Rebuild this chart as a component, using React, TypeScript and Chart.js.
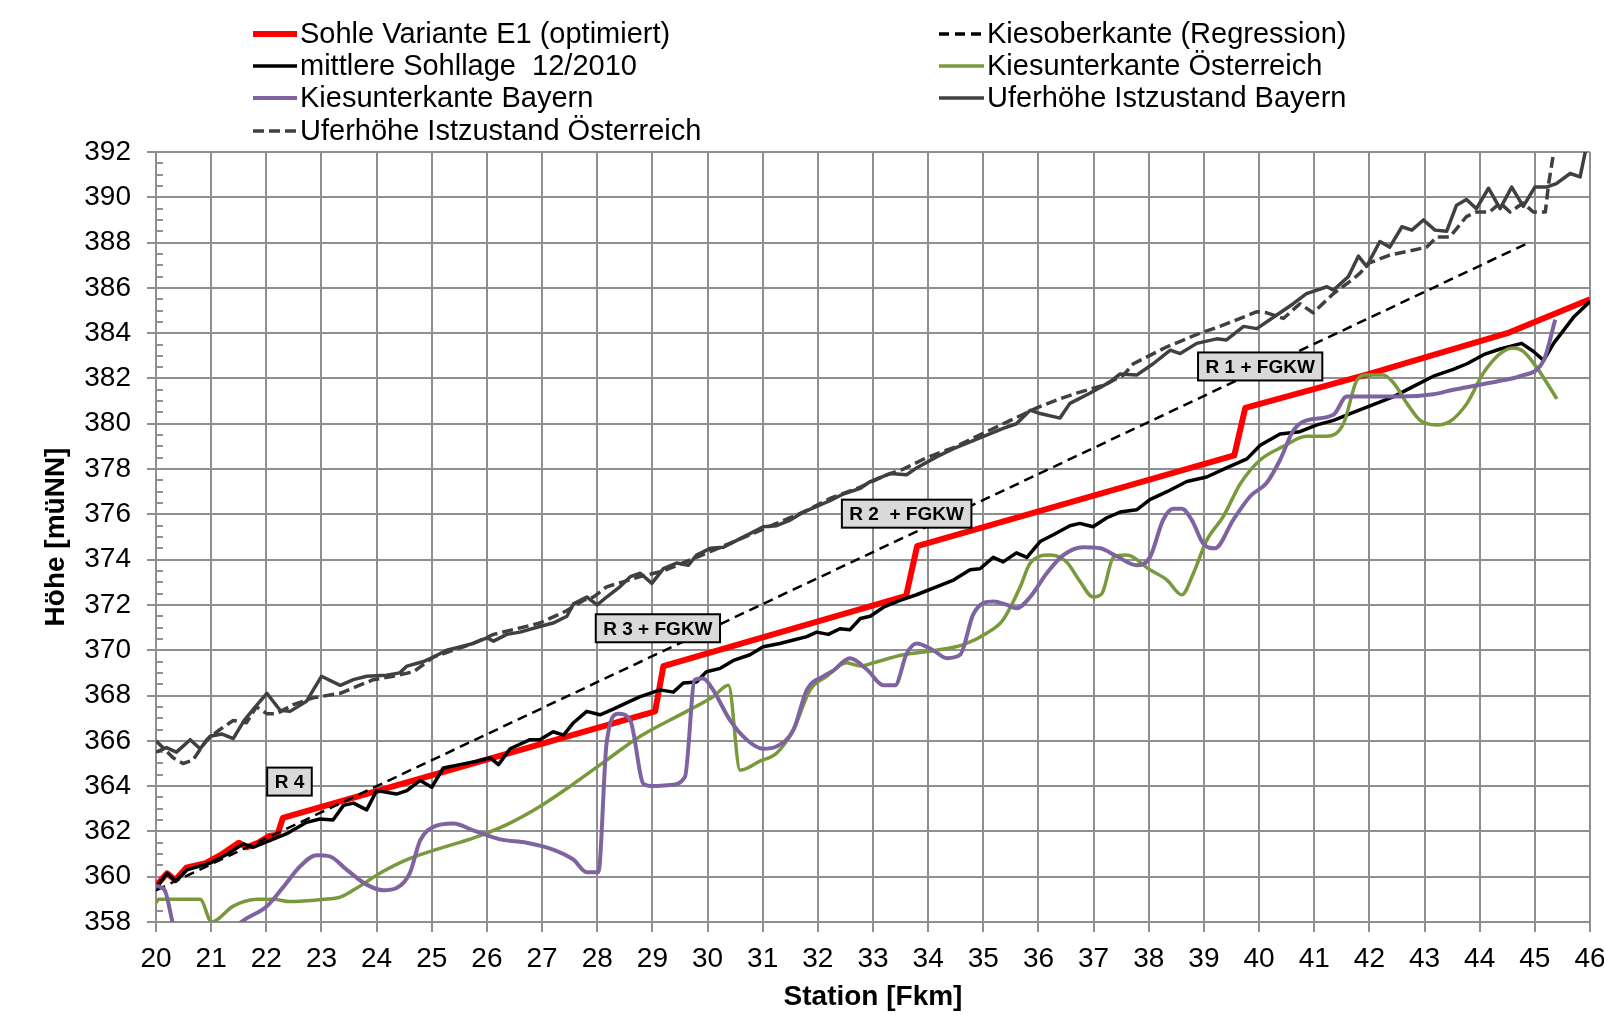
import React, { useEffect, useRef } from 'react';
import { Chart, registerables } from 'chart.js';

Chart.register(...registerables);

type P = [number, number];

// Axis ranges (Station in Fkm, Höhe in müNN)
const xRange: P = [20, 46];
const yRange: P = [358, 392];
const xStep = 1;
const yStep = 2;
const yMinorStep = 0.5;

const sohleE1: P[] = [
  [20.0, 359.6], [20.2, 360.15], [20.35, 359.85], [20.55, 360.4], [20.9, 360.6], [21.2, 361.0],
  [21.5, 361.5], [21.65, 361.3], [21.85, 361.5], [22.05, 361.8], [22.2, 361.85], [22.3, 362.6],
  [29.05, 367.3], [29.2, 369.3], [33.6, 372.4], [33.8, 374.6], [39.55, 378.6], [39.75, 380.7],
  [42.0, 382.2], [44.5, 384.0], [46.0, 385.5],
];

const kiesoberkante: P[] = [[20.0, 359.4], [44.85, 387.95]];

const mittlereSohle: P[] = [
  [20.0, 359.5], [20.2, 360.15], [20.36, 359.8], [20.56, 360.3], [20.98, 360.6], [21.3, 361.0],
  [21.58, 361.45], [21.76, 361.3], [22.07, 361.6], [22.37, 361.9], [22.73, 362.4], [22.97, 362.55],
  [23.21, 362.5], [23.4, 363.15], [23.58, 363.25], [23.82, 362.95], [24.0, 363.8], [24.36, 363.65],
  [24.55, 363.8], [24.79, 364.25], [25.0, 363.95], [25.21, 364.8], [25.51, 364.95], [25.82, 365.1],
  [26.06, 365.25], [26.21, 364.95], [26.42, 365.65], [26.78, 366.05], [26.96, 366.05], [27.2, 366.4],
  [27.39, 366.25], [27.57, 366.8], [27.81, 367.3], [28.05, 367.15], [28.29, 367.4], [28.55, 367.7],
  [28.78, 367.95], [29.14, 368.25], [29.38, 368.15], [29.56, 368.55], [29.8, 368.6], [29.98, 369.05],
  [30.23, 369.2], [30.47, 369.55], [30.77, 369.8], [31.01, 370.15], [31.31, 370.3], [31.56, 370.45],
  [31.8, 370.6], [31.98, 370.8], [32.19, 370.7], [32.4, 370.95], [32.58, 370.9], [32.77, 371.4],
  [32.95, 371.5], [33.19, 371.9], [33.49, 372.2], [33.79, 372.45], [34.15, 372.8], [34.46, 373.1],
  [34.76, 373.55], [34.94, 373.6], [35.18, 374.1], [35.36, 373.9], [35.6, 374.3], [35.79, 374.1],
  [36.03, 374.8], [36.27, 375.1], [36.57, 375.5], [36.75, 375.6], [36.99, 375.45], [37.24, 375.85],
  [37.48, 376.1], [37.78, 376.2], [38.02, 376.65], [38.33, 377.0], [38.69, 377.45], [39.05, 377.65],
  [39.41, 378.05], [39.78, 378.45], [40.02, 379.05], [40.38, 379.55], [40.74, 379.65], [41.05, 379.95],
  [41.35, 380.15], [41.71, 380.5], [42.07, 380.85], [42.44, 381.2], [42.8, 381.65], [43.16, 382.1],
  [43.52, 382.4], [43.77, 382.65], [44.07, 383.05], [44.37, 383.3], [44.76, 383.55], [44.97, 383.2],
  [45.16, 382.8], [45.34, 383.55], [45.7, 384.7], [46.0, 385.4],
];

const kiesunterkanteOesterreich: P[] = [
  [20.0, 358.85], [20.05, 359.0], [20.8, 359.0], [21.01, 358.0], [21.4, 358.7], [21.83, 359.0],
  [22.13, 359.0], [22.43, 358.9], [23.03, 359.0], [23.34, 359.1], [23.64, 359.5], [24.06, 360.15],
  [24.55, 360.75], [25.15, 361.25], [25.75, 361.7], [26.36, 362.3], [26.96, 363.1], [27.57, 364.1],
  [28.17, 365.15], [28.78, 366.2], [29.62, 367.3], [30.1, 367.95], [30.38, 368.45], [30.59, 364.7],
  [30.95, 365.1], [31.25, 365.45], [31.56, 366.5], [31.86, 368.25], [32.16, 368.85], [32.52, 369.45],
  [32.77, 369.3], [33.01, 369.45], [33.55, 369.8], [34.15, 370.0], [34.64, 370.25], [35.06, 370.75],
  [35.36, 371.35], [35.67, 372.8], [35.85, 373.85], [36.21, 374.2], [36.51, 373.9], [36.75, 373.05],
  [36.99, 372.35], [37.15, 372.5], [37.36, 374.1], [37.6, 374.2], [38.02, 373.55], [38.33, 373.1],
  [38.6, 372.45], [38.81, 373.4], [39.05, 374.85], [39.35, 375.9], [39.66, 377.35], [40.02, 378.4],
  [40.44, 379.0], [40.86, 379.45], [41.22, 379.45], [41.53, 380.0], [41.77, 381.9], [41.95, 382.15],
  [42.25, 382.15], [42.44, 381.8], [42.68, 380.9], [42.92, 380.15], [43.22, 379.95], [43.46, 380.1],
  [43.77, 380.9], [44.07, 382.25], [44.37, 383.1], [44.61, 383.35], [44.79, 383.2], [45.03, 382.5],
  [45.4, 381.1],
];

const kiesunterkanteBayern: P[] = [
  [20.0, 359.6], [20.16, 359.4], [20.31, 357.9], [20.5, 356.8], [21.0, 356.5], [21.52, 357.95],
  [22.01, 358.7], [22.31, 359.55], [22.61, 360.45], [22.91, 360.95], [23.15, 360.9], [23.46, 360.3],
  [23.82, 359.65], [24.12, 359.4], [24.36, 359.5], [24.6, 360.15], [24.79, 361.6], [25.03, 362.2],
  [25.39, 362.35], [25.75, 362.05], [26.24, 361.65], [26.72, 361.5], [27.2, 361.2], [27.57, 360.75],
  [27.81, 360.2], [28.02, 360.2], [28.17, 365.9], [28.38, 367.2], [28.6, 366.9], [28.84, 364.1],
  [29.02, 364.0], [29.32, 364.05], [29.59, 364.4], [29.77, 368.7], [29.92, 368.75], [30.1, 368.25],
  [30.41, 366.9], [30.71, 366.05], [31.01, 365.65], [31.25, 365.75], [31.56, 366.5], [31.8, 368.25],
  [32.1, 368.85], [32.28, 369.1], [32.58, 369.65], [32.89, 369.15], [33.19, 368.45], [33.4, 368.45],
  [33.61, 369.85], [33.79, 370.3], [34.09, 370.0], [34.34, 369.65], [34.58, 369.8], [34.82, 371.6],
  [35.18, 372.15], [35.43, 372.0], [35.6, 371.85], [35.85, 372.35], [36.15, 373.4], [36.45, 374.2],
  [36.81, 374.55], [37.12, 374.5], [37.42, 374.15], [37.78, 373.75], [38.02, 374.1], [38.26, 375.75],
  [38.44, 376.25], [38.6, 376.25], [38.78, 375.75], [38.99, 374.7], [39.2, 374.5], [39.53, 375.75],
  [39.84, 376.8], [40.14, 377.4], [40.38, 378.4], [40.62, 379.7], [40.86, 380.15], [41.35, 380.4],
  [41.59, 381.2], [42.07, 381.2], [42.56, 381.2], [43.16, 381.3], [43.52, 381.5], [43.95, 381.7],
  [44.37, 381.9], [44.73, 382.1], [45.16, 382.8], [45.37, 384.6],
];

const uferBayern: P[] = [
  [20.0, 365.5], [20.19, 365.7], [20.37, 365.5], [20.62, 366.05], [20.8, 365.65], [20.98, 366.2],
  [21.2, 366.3], [21.4, 366.1], [21.6, 366.9], [21.8, 367.5], [22.01, 368.1], [22.25, 367.35],
  [22.43, 367.3], [22.73, 367.75], [23.0, 368.85], [23.34, 368.45], [23.58, 368.7], [23.82, 368.85],
  [24.18, 368.9], [24.42, 369.0], [24.55, 369.3], [24.85, 369.5], [25.03, 369.7], [25.27, 370.0],
  [25.51, 370.15], [25.75, 370.3], [26.0, 370.55], [26.12, 370.4], [26.36, 370.7], [26.6, 370.8],
  [26.96, 371.05], [27.2, 371.2], [27.45, 371.5], [27.57, 372.05], [27.81, 372.35], [28.0, 372.0],
  [28.17, 372.35], [28.41, 372.8], [28.6, 373.25], [28.78, 373.4], [28.99, 372.95], [29.2, 373.6],
  [29.44, 373.85], [29.65, 373.75], [29.8, 374.2], [30.05, 374.5], [30.29, 374.55], [30.53, 374.85],
  [30.77, 375.15], [31.01, 375.45], [31.25, 375.5], [31.5, 375.75], [31.74, 376.1], [31.98, 376.35],
  [32.22, 376.6], [32.46, 376.9], [32.77, 377.15], [32.95, 377.45], [33.31, 377.8], [33.61, 377.75],
  [33.79, 378.05], [34.16, 378.55], [34.46, 378.9], [34.76, 379.2], [35.06, 379.5], [35.36, 379.8],
  [35.6, 380.0], [35.85, 380.6], [36.03, 380.45], [36.39, 380.25], [36.57, 380.9], [36.93, 381.35],
  [37.3, 381.85], [37.48, 382.2], [37.78, 382.15], [38.08, 382.65], [38.39, 383.25], [38.57, 383.1],
  [38.87, 383.55], [39.23, 383.75], [39.41, 383.7], [39.72, 384.3], [39.96, 384.2], [40.32, 384.8],
  [40.62, 385.3], [40.86, 385.75], [41.23, 386.05], [41.35, 385.9], [41.62, 386.5], [41.8, 387.4],
  [41.95, 386.95], [42.19, 388.05], [42.37, 387.8], [42.59, 388.7], [42.77, 388.55], [42.98, 389.0],
  [43.19, 388.55], [43.4, 388.5], [43.58, 389.65], [43.76, 389.9], [43.94, 389.5], [44.16, 390.4],
  [44.37, 389.5], [44.58, 390.45], [44.79, 389.6], [45.0, 390.45], [45.21, 390.45], [45.39, 390.6],
  [45.64, 391.05], [45.82, 390.9], [45.91, 391.95], [46.0, 393.5],
];

const uferOesterreich: P[] = [
  [20.0, 366.0], [20.31, 365.25], [20.49, 365.0], [20.67, 365.15], [20.92, 366.05], [21.16, 366.5],
  [21.4, 366.9], [21.64, 366.8], [21.82, 367.5], [22.01, 367.2], [22.19, 367.2], [22.49, 367.6],
  [22.85, 367.9], [23.34, 368.1], [23.64, 368.4], [23.94, 368.7], [24.3, 368.85], [24.67, 369.05],
  [25.03, 369.7], [25.75, 370.3], [26.12, 370.7], [26.96, 371.2], [27.45, 371.75], [27.75, 372.2],
  [27.93, 372.35], [28.17, 372.8], [28.78, 373.25], [29.2, 373.5], [29.8, 374.1], [30.29, 374.6],
  [30.77, 375.1], [31.25, 375.6], [31.74, 376.1], [32.22, 376.7], [32.77, 377.2], [33.2, 377.7],
  [33.55, 378.0], [33.97, 378.5], [34.46, 378.95], [34.76, 379.3], [35.36, 380.0], [35.97, 380.7],
  [36.33, 381.05], [36.69, 381.35], [37.18, 381.7], [37.54, 382.15], [37.72, 382.65], [38.33, 383.4],
  [38.93, 384.0], [39.29, 384.3], [39.66, 384.65], [39.96, 384.95], [40.14, 384.9], [40.44, 384.65],
  [40.74, 385.3], [40.98, 384.9], [41.35, 385.75], [41.71, 386.4], [41.83, 386.65], [42.0, 387.1],
  [42.37, 387.45], [42.67, 387.6], [43.04, 387.8], [43.22, 388.25], [43.46, 388.25], [43.76, 389.15],
  [43.94, 389.35], [44.18, 389.35], [44.37, 389.75], [44.55, 389.35], [44.79, 389.75], [44.97, 389.35],
  [45.19, 389.35], [45.25, 390.6], [45.34, 391.95], [45.4, 393.0],
];

const seriesLabels = [
  'Sohle Variante E1 (optimiert)',
  'Kiesoberkante (Regression)',
  'mittlere Sohllage  12/2010',
  'Kiesunterkante Österreich',
  'Kiesunterkante Bayern',
  'Uferhöhe Istzustand Bayern',
  'Uferhöhe Istzustand Österreich',
];

const annotationTexts = ['R 4', 'R 3 + FGKW', 'R 2  + FGKW', 'R 1 + FGKW'];
const annotationX = [22.42, 29.1, 33.61, 40.02];
const annotationY = [364.2, 370.97, 376.03, 382.53];

const FONT = '"Liberation Sans", Arial, "Noto Sans", sans-serif';
const GRID = '#8f8f8f';

const toXY = (arr: P[]) => arr.map(([x, y]) => ({ x, y }));

const minorTicksPlugin = {
  id: 'minorTicks',
  beforeDatasetsDraw(chart: any) {
    const { ctx, scales } = chart;
    const y = scales.y;
    const left = chart.chartArea.left;
    ctx.save();
    ctx.strokeStyle = GRID;
    ctx.lineWidth = 2;
    for (let v = yRange[0]; v <= yRange[1] + 1e-9; v += yMinorStep) {
      if (Math.abs(v / yStep - Math.round(v / yStep)) < 1e-6) continue;
      const py = Math.round(y.getPixelForValue(v));
      ctx.beginPath();
      ctx.moveTo(left, py);
      ctx.lineTo(left + 7, py);
      ctx.stroke();
    }
    ctx.restore();
  },
};

const annotationPlugin = {
  id: 'boxLabels',
  afterDatasetsDraw(chart: any) {
    const { ctx, scales } = chart;
    ctx.save();
    ctx.font = `bold 19px ${FONT}`;
    ctx.textBaseline = 'middle';
    ctx.textAlign = 'center';
    annotationTexts.forEach((t, i) => {
      const cx = scales.x.getPixelForValue(annotationX[i]);
      const cy = scales.y.getPixelForValue(annotationY[i]);
      const w = ctx.measureText(t).width + 15;
      const h = 28;
      ctx.fillStyle = '#d9d9d9';
      ctx.fillRect(cx - w / 2, cy - h / 2, w, h);
      ctx.strokeStyle = '#000';
      ctx.lineWidth = 2;
      ctx.strokeRect(cx - w / 2, cy - h / 2, w, h);
      ctx.fillStyle = '#000';
      ctx.fillText(t, cx, cy + 1);
    });
    ctx.restore();
  },
};

const legendPlugin = {
  id: 'twoColLegend',
  afterDraw(chart: any) {
    const { ctx } = chart;
    const ds = chart.data.datasets;
    const cols = [
      { x0: 253, x1: 297, tx: 300, items: [0, 2, 4, 6] },
      { x0: 939, x1: 984, tx: 987, items: [1, 3, 5] },
    ];
    const rowsY = [34, 66, 98, 131];
    ctx.save();
    ctx.font = `29px ${FONT}`;
    ctx.textBaseline = 'middle';
    ctx.textAlign = 'left';
    cols.forEach((c) => {
      c.items.forEach((idx, r) => {
        const d = ds[idx];
        const y = rowsY[r];
        ctx.save();
        ctx.strokeStyle = d.borderColor;
        ctx.lineWidth = idx === 0 ? 6 : Math.max(3.5, d.borderWidth);
        ctx.setLineDash(d.borderDash || []);
        ctx.lineCap = 'butt';
        ctx.beginPath();
        ctx.moveTo(c.x0, y);
        ctx.lineTo(c.x1, y);
        ctx.stroke();
        ctx.restore();
        ctx.fillStyle = '#000';
        ctx.fillText(d.label, c.tx, y + 1);
      });
    });
    ctx.restore();
  },
};

export default function App() {
  const ref = useRef<HTMLCanvasElement | null>(null);

  useEffect(() => {
    if (!ref.current) return;
    const mk = (i: number, data: P[], color: string, width: number, dash: number[] = [], smooth = false) => ({
      label: seriesLabels[i],
      data: toXY(data),
      borderColor: color,
      backgroundColor: color,
      borderWidth: width,
      borderDash: dash,
      pointRadius: 0,
      pointHoverRadius: 0,
      fill: false,
      tension: smooth ? 0.4 : 0,
      cubicInterpolationMode: smooth ? ('monotone' as const) : ('default' as const),
      borderJoinStyle: 'round' as const,
      order: 7 - i,
    });

    const chart = new Chart(ref.current, {
      type: 'line',
      data: {
        datasets: [
          mk(0, sohleE1, '#ff0000', 6),
          mk(1, kiesoberkante, '#000000', 2.5, [10, 6]),
          mk(2, mittlereSohle, '#000000', 3.5),
          mk(3, kiesunterkanteOesterreich, '#789a3c', 3.5, [], true),
          mk(4, kiesunterkanteBayern, '#7f63a1', 4, [], true),
          mk(5, uferBayern, '#404040', 3.5),
          mk(6, uferOesterreich, '#404040', 3.5, [11, 5]),
        ] as any,
      },
      options: {
        animation: false,
        responsive: false,
        maintainAspectRatio: false,
        devicePixelRatio: 1,
        layout: { padding: { top: 152, right: 14, left: 0, bottom: 0 } },
        plugins: {
          legend: { display: false },
          tooltip: { enabled: false },
          title: { display: false },
        },
        scales: {
          x: {
            type: 'linear',
            min: xRange[0],
            max: xRange[1],
            afterFit: (s: any) => {
              s.height = 93;
              s.paddingRight = 0;
              s.paddingLeft = 0;
            },
            ticks: {
              stepSize: xStep,
              autoSkip: false,
              maxRotation: 0,
              padding: 10,
              color: '#000',
              font: { family: FONT, size: 28 },
            },
            grid: { color: GRID, lineWidth: 2, tickLength: 10, drawTicks: true },
            border: { color: GRID, width: 2 },
            title: {
              display: true,
              text: 'Station [Fkm]',
              color: '#000',
              font: { family: FONT, size: 28, weight: 'bold' },
              padding: { top: 0, bottom: 1 },
            },
          },
          y: {
            type: 'linear',
            min: yRange[0],
            max: yRange[1],
            afterFit: (s: any) => {
              s.width = 156;
              s.paddingTop = 0;
              s.paddingBottom = 0;
            },
            ticks: {
              stepSize: yStep,
              autoSkip: false,
              padding: 16,
              color: '#000',
              font: { family: FONT, size: 28 },
            },
            grid: { color: GRID, lineWidth: 2, tickLength: 9, drawTicks: true },
            border: { color: GRID, width: 2 },
            title: {
              display: true,
              text: 'Höhe [müNN]',
              color: '#000',
              font: { family: FONT, size: 28, weight: 'bold' },
              padding: { top: 39, bottom: 0 },
            },
          },
        },
      } as any,
      plugins: [minorTicksPlugin, annotationPlugin, legendPlugin],
    });
    return () => chart.destroy();
  }, []);

  return (
    <div style={{ position: 'absolute', left: 0, top: 0, width: 1604, height: 1015, background: '#fff' }}>
      <canvas ref={ref} width={1604} height={1015} style={{ display: 'block' }} />
    </div>
  );
}
